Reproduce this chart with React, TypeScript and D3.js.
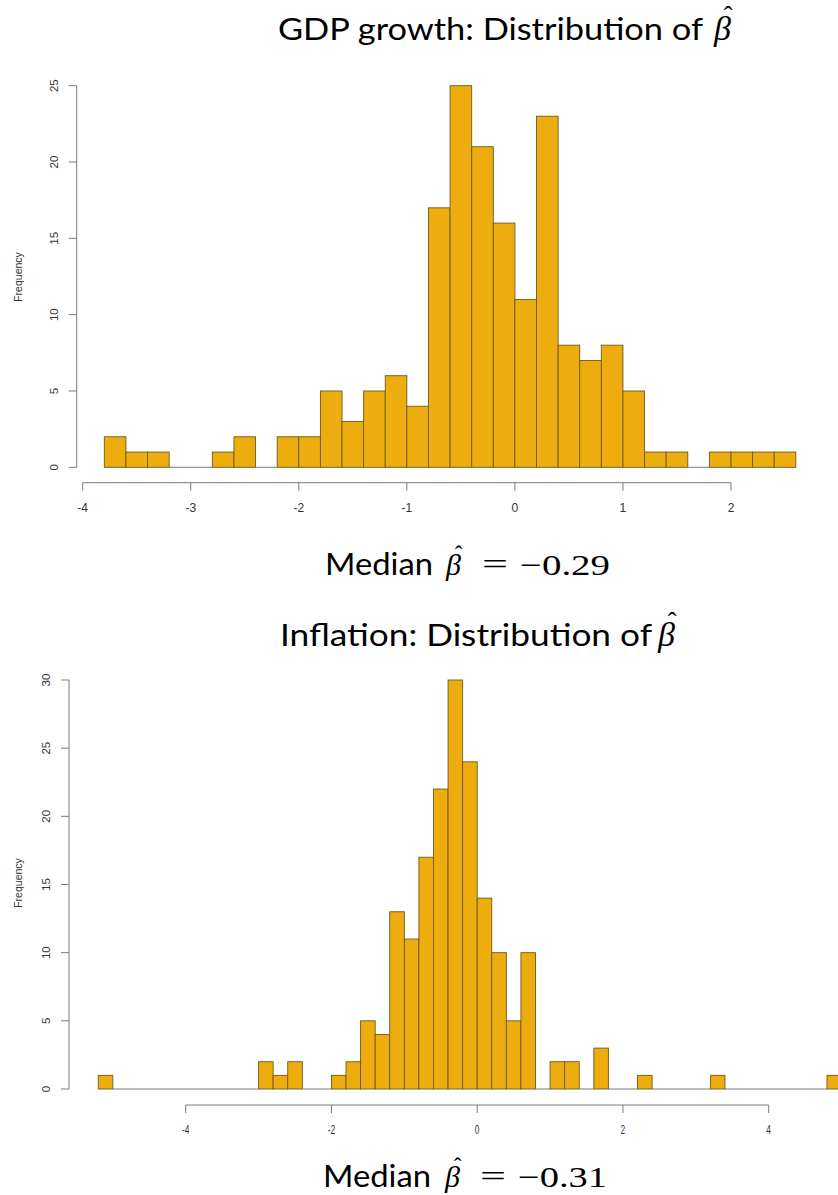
import React from "react";
import * as d3 from "d3";

// ---- Data ----
const binWidth = 0.2;

// GDP growth histogram: first bin edge and counts per 0.2-wide bin
const gdpFirstEdge = -3.8;
const gdpCounts = [2, 1, 1, 0, 0, 1, 2, 0, 2, 2, 5, 3, 5, 6, 4, 17, 25, 21, 16, 11, 23, 8, 7, 8, 5, 1, 1, 0, 1, 1, 1, 1];
const gdpXTicks = [-4, -3, -2, -1, 0, 1, 2];
const gdpYTicks = [0, 5, 10, 15, 20, 25];

// Inflation histogram
const infFirstEdge = -5.2;
const infCounts = [
  1, 0, 0, 0, 0, 0, 0, 0, 0, 0, 0,
  2, 1, 2, 0, 0, 1, 2, 5, 4, 13, 11, 17, 22, 30, 24, 14, 10, 5, 10, 0,
  2, 2, 0, 3, 0, 0, 1, 0, 0, 0, 0, 1, 0, 0, 0, 0, 0, 0, 0, 1,
];
const infXTicks = [-4, -2, 0, 2, 4];
const infYTicks = [0, 5, 10, 15, 20, 25, 30];

const titles = ["GDP growth: Distribution of", "Inflation: Distribution of"];
const medianLabel = "Median";
const medians = ["\u22120.29", "\u22120.31"];

const FILL = "#EEAD0E";
const EDGE = "#6e5a1c";
const AXIS = "#7a7a7a";
const TICKTXT = "#333";
const SANS = "Lato, 'Open Sans', sans-serif";
const SERIF = "'Liberation Serif', 'DejaVu Serif', serif";
const AX = "'Liberation Sans', Arial, sans-serif";

type Cfg = {
  counts: number[];
  firstEdge: number;
  xDomain: [number, number];
  xRange: [number, number];
  yDomain: [number, number];
  yRange: [number, number];
  xTicks: number[];
  yTicks: number[];
  yAxisX: number;
  xAxisY: number;
  freqY: number;
  labelScaleX: number;
};

function Histogram({ c }: { c: Cfg }) {
  const x = d3.scaleLinear().domain(c.xDomain).range(c.xRange);
  const y = d3.scaleLinear().domain(c.yDomain).range(c.yRange);
  const bins = c.counts.map((n, i) => ({
    x0: c.firstEdge + i * binWidth,
    x1: c.firstEdge + (i + 1) * binWidth,
    n,
  }));
  const [y0, y1] = [y(c.yTicks[0]), y(c.yTicks[c.yTicks.length - 1])];
  return (
    <g>
      {bins.map((b, i) =>
        b.n === 0 ? (
          <line key={i} x1={x(b.x0)} x2={x(b.x1)} y1={y(0)} y2={y(0)} stroke={AXIS} strokeWidth={1} />
        ) : (
          <rect
            key={i}
            x={x(b.x0)}
            y={y(b.n)}
            width={x(b.x1) - x(b.x0)}
            height={y(0) - y(b.n)}
            fill={FILL}
            stroke={EDGE}
            strokeWidth={0.9}
          />
        )
      )}
      {/* y axis */}
      <line x1={c.yAxisX} x2={c.yAxisX} y1={y0} y2={y1} stroke={AXIS} strokeWidth={1} />
      {c.yTicks.map((t) => (
        <g key={t}>
          <line x1={c.yAxisX - 8} x2={c.yAxisX} y1={y(t)} y2={y(t)} stroke={AXIS} strokeWidth={1} />
          <text
            transform={`translate(${c.yAxisX - 23},${y(t)}) rotate(-90)`}
            textAnchor="middle"
            dominantBaseline="central"
            fontFamily={AX}
            fontSize={11.5}
            fill={TICKTXT}
          >
            {t}
          </text>
        </g>
      ))}
      <text
        transform={`translate(18,${c.freqY}) rotate(-90)`}
        textAnchor="middle"
        dominantBaseline="central"
        fontFamily={AX}
        fontSize={10.5}
        fill={TICKTXT}
      >
        Frequency
      </text>
      {/* x axis */}
      <line
        x1={x(c.xTicks[0])}
        x2={x(c.xTicks[c.xTicks.length - 1])}
        y1={c.xAxisY}
        y2={c.xAxisY}
        stroke={AXIS}
        strokeWidth={1}
      />
      {c.xTicks.map((t) => (
        <g key={t}>
          <line x1={x(t)} x2={x(t)} y1={c.xAxisY} y2={c.xAxisY + 8} stroke={AXIS} strokeWidth={1} />
          <text
            transform={`translate(${x(t)},${c.xAxisY + 29}) scale(${c.labelScaleX},1)`}
            textAnchor="middle"
            fontFamily={AX}
            fontSize={12}
            fill={TICKTXT}
          >
            {t}
          </text>
        </g>
      ))}
    </g>
  );
}

function Beta({ x, base, size }: { x: number; base: number; size: number }) {
  return (
    <text x={x} y={base} fontFamily={SERIF} fontSize={size} fill="#000">
      <tspan fontStyle="italic">β</tspan>
      <tspan x={x + size * 0.42} y={base - size * 0.43} textAnchor="middle" fontSize={size * 0.78}>
        ˆ
      </tspan>
    </text>
  );
}

function Title({ text, x, x2, base, size, bx, bsize }: any) {
  return (
    <g>
      <text x={x} y={base} fontFamily={SANS} fontSize={size} textLength={x2 - x} lengthAdjust="spacingAndGlyphs" fill="#000">
        {text}
      </text>
      <Beta x={bx} base={base} size={bsize} />
    </g>
  );
}

function Median({ value, base, mx, mx2, bx, ex, vx, vx2 }: any) {
  return (
    <g>
      <text x={mx} y={base} fontFamily={SANS} fontSize={30} textLength={mx2 - mx} lengthAdjust="spacingAndGlyphs" fill="#000">
        {medianLabel}
      </text>
      <Beta x={bx} base={base} size={30} />
      <text x={ex} y={base - 1} fontFamily={SERIF} fontSize={30} textLength={26} lengthAdjust="spacingAndGlyphs" fill="#000">
        =
      </text>
      <text x={vx} y={base} fontFamily={SERIF} fontSize={30} textLength={vx2 - vx} lengthAdjust="spacingAndGlyphs" fill="#000">
        {value}
      </text>
    </g>
  );
}

export default function App() {
  const gdp: Cfg = {
    counts: gdpCounts,
    firstEdge: gdpFirstEdge,
    xDomain: [-4, 2],
    xRange: [82.7, 731],
    yDomain: [0, 25],
    yRange: [467.3, 85.7],
    xTicks: gdpXTicks,
    yTicks: gdpYTicks,
    yAxisX: 76.7,
    xAxisY: 482.7,
    freqY: 277,
    labelScaleX: 1,
  };
  const inf: Cfg = {
    counts: infCounts,
    firstEdge: infFirstEdge,
    xDomain: [-4, 4],
    xRange: [185.7, 768.7],
    yDomain: [0, 30],
    yRange: [1089, 680],
    xTicks: infXTicks,
    yTicks: infYTicks,
    yAxisX: 69,
    xAxisY: 1105,
    freqY: 883,
    labelScaleX: 0.7,
  };
  return (
    <svg
      width={838}
      height={1195}
      viewBox="0 0 838 1195"
      style={{ position: "absolute", left: 0, top: 0, background: "#fff" }}
    >
      <rect x={0} y={0} width={838} height={1195} fill="#fff" />
      <Title text={titles[0]} x={278} x2={703} base={40} size={30} bx={714} bsize={34} />
      <Histogram c={gdp} />
      <Median value={medians[0]} base={575} mx={325} mx2={433} bx={446} ex={482} vx={520} vx2={610} />
      <Title text={titles[1]} x={280} x2={652} base={646} size={30} bx={658} bsize={34} />
      <Histogram c={inf} />
      <Median value={medians[1]} base={1187} mx={323} mx2={431} bx={445} ex={480} vx={518} vx2={607} />
    </svg>
  );
}
